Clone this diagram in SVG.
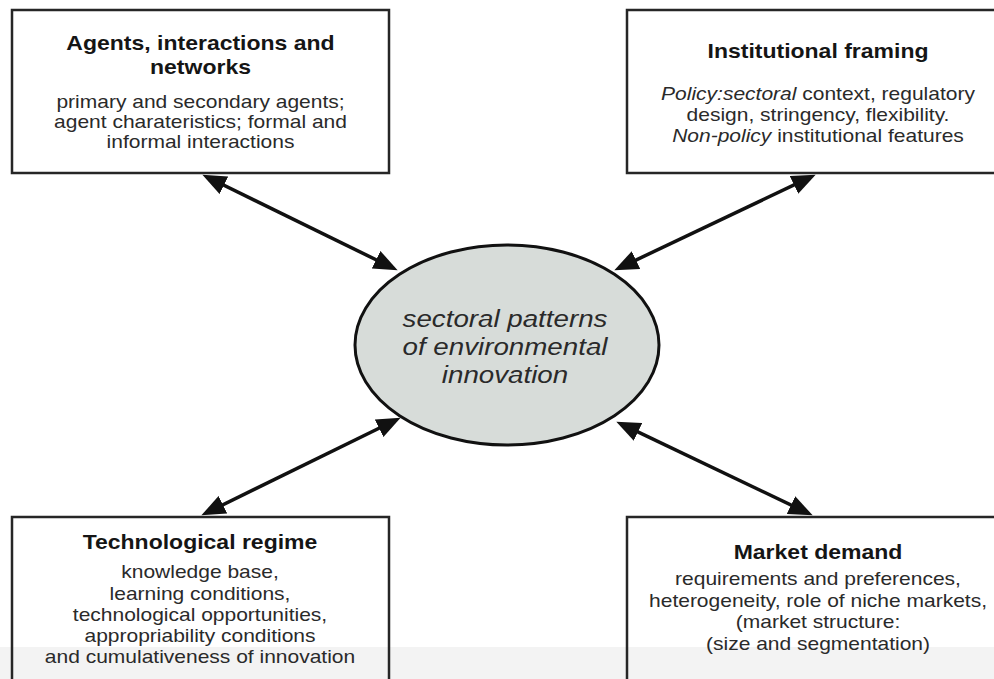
<svg xmlns="http://www.w3.org/2000/svg" width="994" height="679" viewBox="0 0 994 679">
<style>
  .box { fill: none; stroke: #262626; stroke-width: 2.5; }
  .title { font-family: "Liberation Sans", Arial, sans-serif; font-weight: bold; font-size: 19.5px; fill: #151515; text-anchor: middle; }
  .body { font-family: "Liberation Sans", Arial, sans-serif; font-size: 17.8px; fill: #2a2a2a; text-anchor: middle; }
  .center { font-family: "Liberation Sans", Arial, sans-serif; font-style: italic; font-size: 23.5px; fill: #2a2a2a; text-anchor: middle; }
  .it { font-style: italic; }
  .conn { stroke: #111; stroke-width: 3.5; fill: none; marker-start: url(#ah); marker-end: url(#ah); }
</style>
<defs>
  <marker id="ah" markerUnits="userSpaceOnUse" markerWidth="24" markerHeight="20" refX="14" refY="9" orient="auto-start-reverse" viewBox="0 0 22 18">
    <path d="M0,0 L22,9 L0,18 z" fill="#111"/>
  </marker>
</defs>
<rect x="0" y="0" width="994" height="679" fill="#ffffff"/>
<rect x="0" y="647" width="994" height="32" fill="#f3f3f3"/>

<g id="connectors">
  <line class="conn" x1="210.2" y1="178.5" x2="389.8" y2="266.5"/>
  <line class="conn" x1="807.8" y1="178.4" x2="622.2" y2="266.6"/>
  <line class="conn" x1="209.2" y1="511.5" x2="392.8" y2="421.5"/>
  <line class="conn" x1="804.8" y1="511.6" x2="624.2" y2="425.4"/>
</g>

<g id="agents">
  <rect class="box" x="12" y="10" width="377" height="163"/>
  <g transform="translate(200.5,0) scale(1.18,1)">
    <text class="title" x="0" y="50">Agents, interactions and</text>
    <text class="title" x="0" y="74">networks</text>
    <text class="body" x="0" y="108">primary and secondary agents;</text>
    <text class="body" x="0" y="128">agent charateristics; formal and</text>
    <text class="body" x="0" y="148">informal interactions</text>
  </g>
</g>

<g id="institutional">
  <rect class="box" x="627" y="10" width="380" height="163"/>
  <g transform="translate(818,0) scale(1.18,1)">
    <text class="title" x="0" y="58">Institutional framing</text>
    <text class="body" x="0" y="100"><tspan class="it">Policy:sectoral</tspan> context, regulatory</text>
    <text class="body" x="0" y="121">design, stringency, flexibility.</text>
    <text class="body" x="0" y="142"><tspan class="it">Non-policy</tspan> institutional features</text>
  </g>
</g>

<g id="technological">
  <rect class="box" x="12" y="517" width="377" height="180"/>
  <g transform="translate(200,0) scale(1.18,1)">
    <text class="title" x="0" y="549">Technological regime</text>
    <text class="body" x="0" y="578">knowledge base,</text>
    <text class="body" x="0" y="600">learning conditions,</text>
    <text class="body" x="0" y="621">technological opportunities,</text>
    <text class="body" x="0" y="642">appropriability conditions</text>
    <text class="body" x="0" y="663">and cumulativeness of innovation</text>
  </g>
</g>

<g id="market">
  <rect class="box" x="627" y="517" width="380" height="180"/>
  <g transform="translate(818,0) scale(1.18,1)">
    <text class="title" x="0" y="559">Market demand</text>
    <text class="body" x="0" y="585">requirements and preferences,</text>
    <text class="body" x="0" y="607">heterogeneity, role of niche markets,</text>
    <text class="body" x="0" y="628">(market structure:</text>
    <text class="body" x="0" y="650">(size and segmentation)</text>
  </g>
</g>

<g id="sectoral">
  <ellipse cx="507" cy="345" rx="152" ry="100" fill="#d7dcd9" stroke="#111" stroke-width="3"/>
  <g transform="translate(505,0) scale(1.18,1)">
    <text class="center" x="0" y="327">sectoral patterns</text>
    <text class="center" x="0" y="355">of environmental</text>
    <text class="center" x="0" y="383">innovation</text>
  </g>
</g>
</svg>
